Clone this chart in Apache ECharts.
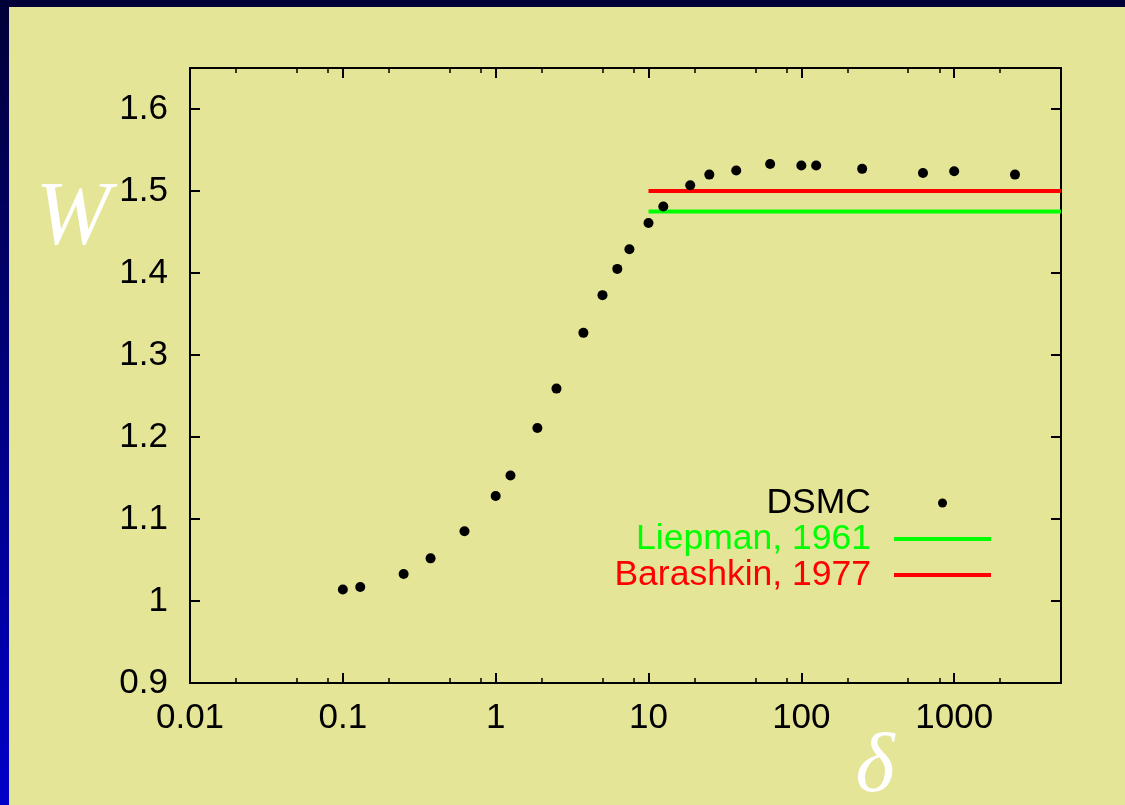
<!DOCTYPE html>
<html>
<head>
<meta charset="utf-8">
<script src="https://cdn.jsdelivr.net/npm/echarts@6/dist/echarts.min.js"></script>
<style>
  html, body { margin: 0; padding: 0; }
  #chart { width: 1125px; height: 805px; }
</style>
</head>
<body>
<div id="chart"></div>
<script>
// DSMC points (delta, W)
var deltaValues = [0.1, 0.13, 0.25, 0.375, 0.625, 1, 1.25, 1.875, 2.5, 3.75, 5, 6.25, 7.5, 10, 12.5, 18.75, 25, 37.5, 62.5, 100, 125, 250, 625, 1000, 2500];
var wValues = [1.014, 1.017, 1.033, 1.052, 1.085, 1.128, 1.153, 1.211, 1.259, 1.327, 1.373, 1.405, 1.429, 1.461, 1.481, 1.507, 1.520, 1.525, 1.533, 1.531, 1.531, 1.527, 1.522, 1.524, 1.520];

// theory levels, from delta=10 out to the right edge
var liepmanX = [10, 5000];
var liepmanW = [1.475, 1.475];
var barashkinX = [10, 5000];
var barashkinW = [1.5, 1.5];

var xMajorTicks = [0.01, 0.1, 1, 10, 100, 1000];
var xMinorTicks = [0.02, 0.05, 0.08, 0.2, 0.5, 0.8, 2, 5, 8, 20, 50, 80, 200, 500, 800, 2000];
var yTicks = [0.9, 1, 1.1, 1.2, 1.3, 1.4, 1.5, 1.6];

var chart = echarts.init(document.getElementById("chart"));

var black = '#000';
var fontFam = '"Liberation Sans", Arial, Helvetica, sans-serif';

function xAx(pos, ticks, len, labels){
  return {
    type: 'log',
    logBase: 10,
    position: pos,
    min: 0.01,
    max: 5000,
    axisLine: { show: true, onZero: false, lineStyle: { color: black, width: 2 } },
    axisTick: { show: true, inside: true, length: len, customValues: ticks, lineStyle: { color: black, width: len > 6 ? 2 : 1.5 } },
    axisLabel: labels ? {
      show: true, customValues: ticks, margin: 18,
      color: black, fontSize: 35, fontFamily: fontFam,
      formatter: function(v){ return String(v); }
    } : { show: false },
    splitLine: { show: false },
    minorTick: { show: false }
  };
}

function yAx(pos, labels){
  return {
    type: 'value',
    position: pos,
    min: 0.9,
    max: 1.65,
    axisLine: { show: true, onZero: false, lineStyle: { color: black, width: 2 } },
    axisTick: { show: true, inside: true, length: 10, customValues: yTicks, lineStyle: { color: black, width: 2 } },
    axisLabel: labels ? {
      show: true, customValues: yTicks, margin: 22,
      color: black, fontSize: 35, fontFamily: fontFam,
      formatter: function(v){ return String(v); }
    } : { show: false },
    splitLine: { show: false }
  };
}

var option = {
  animation: false,
  backgroundColor: {
    type: 'linear', x: 0, y: 0, x2: 0, y2: 1,
    colorStops: [{ offset: 0, color: '#000038' }, { offset: 1, color: '#0000c8' }]
  },
  graphic: [
    { type: 'rect', z: -10, silent: true, shape: { x: 9, y: 7, width: 1116, height: 798 }, style: { fill: '#e5e597' } },
    { type: 'text', z: 10, x: 73, y: 220, style: { text: 'W', fill: '#fff', font: 'italic 90px "Liberation Serif", "DejaVu Serif", serif', align: 'center', verticalAlign: 'middle' } },
    { type: 'text', z: 10, x: 875, y: 769, style: { text: 'δ', fill: '#fff', font: 'italic 84px "Liberation Serif", "DejaVu Serif", serif', align: 'center', verticalAlign: 'middle' } }
  ],
  grid: { left: 190, top: 68, width: 871, height: 615, containLabel: false },
  xAxis: [
    xAx('bottom', xMajorTicks, 10, true),
    xAx('bottom', xMinorTicks, 5, false),
    xAx('top', xMajorTicks, 10, false),
    xAx('top', xMinorTicks, 5, false)
  ],
  yAxis: [
    yAx('left', true),
    yAx('right', false)
  ],
  legend: {
    orient: 'vertical',
    align: 'right',
    right: 132,
    top: 485,
    padding: 0,
    itemGap: 0,
    itemWidth: 97,
    itemHeight: 9,
    selectedMode: false,
    textStyle: { fontSize: 35.5, fontFamily: fontFam, padding: [0, 18, 0, 0] },
    data: [
      { name: 'DSMC', textStyle: { color: black } },
      { name: 'Liepman, 1961', textStyle: { color: '#00ff00' }, itemStyle: { opacity: 0 }, lineStyle: { width: 4 } },
      { name: 'Barashkin, 1977', textStyle: { color: '#ff0000' }, itemStyle: { opacity: 0 }, lineStyle: { width: 4 } }
    ]
  },
  series: [
    {
      name: 'Liepman, 1961',
      type: 'line',
      xAxisIndex: 0, yAxisIndex: 0,
      data: liepmanX.map(function(x, i){ return [x, liepmanW[i]]; }),
      symbol: 'none',
      color: '#00ff00',
      lineStyle: { color: '#00ff00', width: 4 },
      z: 2
    },
    {
      name: 'Barashkin, 1977',
      type: 'line',
      xAxisIndex: 0, yAxisIndex: 0,
      data: barashkinX.map(function(x, i){ return [x, barashkinW[i]]; }),
      symbol: 'none',
      color: '#ff0000',
      lineStyle: { color: '#ff0000', width: 4 },
      z: 2
    },
    {
      name: 'DSMC',
      type: 'scatter',
      xAxisIndex: 0, yAxisIndex: 0,
      data: deltaValues.map(function(x, i){ return [x, wValues[i]]; }),
      symbol: 'circle',
      symbolSize: 10,
      itemStyle: { color: black, opacity: 1 },
      z: 5
    }
  ]
};

chart.setOption(option);
</script>
</body>
</html>
